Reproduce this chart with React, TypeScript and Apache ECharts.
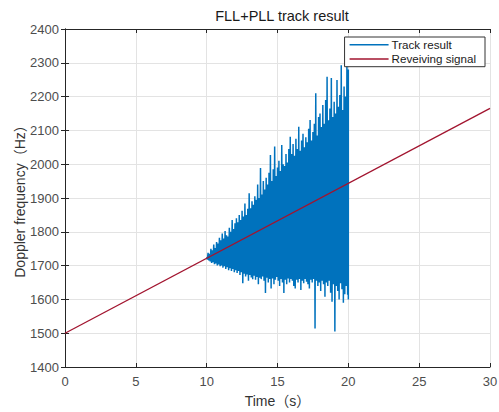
import React, { useEffect, useRef } from "react";
import * as echarts from "echarts";

const titleText = "FLL+PLL track result";
const xName = "Time（s）";
const yName = "Doppler frequency（Hz）";
const seriesNames = ["Track result", "Reveiving signal"];

// Received (reference) signal: straight line endpoints
const receivedTime = [0, 30];
const receivedFreq = [1500, 2165];

// Track result: samples from t = 10.0 s to 20.0 s, every 0.1 s
const trackStart = 10;
const trackStep = 0.1;
// Upper swing of the tracked frequency at each sample
const trackUpper = [
  1725, 1738, 1735, 1750, 1745, 1762, 1752, 1770, 1765, 1782,
  1775, 1795, 1780, 1802, 1790, 1786, 1812, 1800, 1835, 1808,
  1825, 1840, 1828, 1850, 1835, 1862, 1845, 1884, 1850, 1868,
  1914, 1870, 1890, 1880, 1905, 1895, 1940, 1900, 1989, 1910,
  1950, 1925, 1960, 1940, 1975, 2027, 1950, 1985, 2052, 1965,
  1990, 2010, 1980, 2057, 2000, 1995, 2030, 2005, 2045, 2081,
  2030, 2060, 2025, 2075, 2045, 2111, 2040, 2070, 2090, 2050,
  2080, 2065, 2105, 2131, 2070, 2095, 2120, 2210, 2085, 2140,
  2150, 2110, 2175, 2120, 2190, 2259, 2130, 2165, 2255, 2140,
  2185, 2150, 2249, 2170, 2205, 2293, 2160, 2230, 2200, 2300,
  2280,
];
// Lower swing of the tracked frequency at each sample
const trackLower = [
  1718, 1715, 1712, 1708, 1710, 1704, 1706, 1700, 1703, 1698,
  1700, 1694, 1698, 1690, 1695, 1686, 1692, 1684, 1690, 1680,
  1686, 1678, 1684, 1672, 1680, 1648, 1676, 1668, 1674, 1655,
  1672, 1665, 1660, 1670, 1658, 1666, 1645, 1664, 1660, 1668,
  1655, 1619, 1664, 1650, 1660, 1632, 1662, 1645, 1658, 1666,
  1655, 1640, 1660, 1650, 1619, 1658, 1645, 1662, 1650, 1660,
  1655, 1640, 1632, 1658, 1650, 1660, 1628, 1655, 1648, 1660,
  1652, 1645, 1632, 1658, 1650, 1660, 1514, 1655, 1640, 1650,
  1625, 1655, 1645, 1608, 1650, 1640, 1655, 1620, 1593, 1645,
  1505, 1640, 1625, 1600, 1648, 1630, 1590, 1615, 1640, 1614,
  1600,
];

const xMin = 0, xMax = 30, xInterval = 5;
const yMin = 1400, yMax = 2400, yInterval = 100;

const FONT = "'Liberation Sans', Arial, 'Noto Sans CJK SC', sans-serif";

export default function App() {
  const ref = useRef<HTMLDivElement>(null);

  useEffect(() => {
    if (!ref.current) return;
    const chart = echarts.init(ref.current, undefined, { renderer: "svg" });

    const trackData: number[][] = [];
    for (let i = 0; i < trackUpper.length; i++) {
      const t = trackStart + i * trackStep;
      trackData.push([t, trackUpper[i]]);
      if (i < trackUpper.length - 1) trackData.push([t + trackStep / 2, trackLower[i]]);
      else trackData.push([t, trackLower[i]]);
    }
    const receivedData = receivedTime.map((t, i) => [t, receivedFreq[i]]);

    const axisLine = { show: true, lineStyle: { color: "#262626", width: 1 } };
    const tick = { show: true, inside: true, length: 4, lineStyle: { color: "#262626" } };

    chart.setOption({
      animation: false,
      backgroundColor: "#ffffff",
      textStyle: { fontFamily: FONT },
      title: {
        text: titleText,
        left: 277,
        textAlign: "center",
        top: 4,
        textStyle: { fontSize: 14.5, fontWeight: "normal", color: "#1a1a1a", fontFamily: FONT },
      },
      grid: { left: 65, right: 9, top: 29, bottom: 45, containLabel: false, outerBoundsMode: "none" },
      legend: {
        data: seriesNames,
        orient: "vertical",
        right: 14,
        top: 37,
        backgroundColor: "#ffffff",
        borderColor: "#333333",
        borderWidth: 1,
        padding: [2, 9, 2, 5],
        itemGap: 2.5,
        itemWidth: 39,
        itemHeight: 1.5,
        icon: "rect",
        textStyle: { fontSize: 11.6, color: "#1a1a1a", fontFamily: FONT, padding: [0, 0, 0, -2] },
      },
      xAxis: [
        {
          type: "value",
          min: xMin,
          max: xMax,
          interval: xInterval,
          name: xName,
          nameLocation: "middle",
          nameGap: 27,
          nameMoveOverlap: false,
          nameTextStyle: { fontSize: 14, color: "#333333", fontFamily: FONT },
          axisLine,
          axisTick: tick,
          axisLabel: { fontSize: 13, color: "#4d4d4d", margin: 8, fontFamily: FONT },
          splitLine: { show: true, lineStyle: { color: "#e3e3e3", width: 1 } },
        },
        {
          type: "value",
          position: "top",
          min: xMin,
          max: xMax,
          interval: xInterval,
          axisLine,
          axisTick: tick,
          axisLabel: { show: false },
          splitLine: { show: false },
        },
      ],
      yAxis: [
        {
          type: "value",
          min: yMin,
          max: yMax,
          interval: yInterval,
          name: yName,
          nameLocation: "middle",
          nameGap: 38,
          nameMoveOverlap: false,
          nameTextStyle: { fontSize: 14, color: "#333333", fontFamily: FONT },
          axisLine,
          axisTick: tick,
          axisLabel: {
            fontSize: 13,
            color: "#4d4d4d",
            margin: 6,
            fontFamily: FONT,
            formatter: (v: number) => String(v),
          },
          splitLine: { show: true, lineStyle: { color: "#e3e3e3", width: 1 } },
        },
        {
          type: "value",
          position: "right",
          min: yMin,
          max: yMax,
          interval: yInterval,
          axisLine,
          axisTick: tick,
          axisLabel: { show: false },
          splitLine: { show: false },
        },
      ],
      series: [
        {
          name: seriesNames[0],
          type: "line",
          xAxisIndex: 0,
          yAxisIndex: 0,
          data: trackData,
          showSymbol: false,
          symbol: "none",
          color: "#0072BD",
          lineStyle: { color: "#0072BD", width: 1.5 },
          z: 2,
        },
        {
          name: seriesNames[1],
          type: "line",
          xAxisIndex: 0,
          yAxisIndex: 0,
          data: receivedData,
          showSymbol: false,
          symbol: "none",
          color: "#A2142F",
          lineStyle: { color: "#A2142F", width: 1.3 },
          z: 3,
        },
      ],
    });

    return () => chart.dispose();
  }, []);

  return (
    <div
      ref={ref}
      style={{ position: "fixed", left: 0, top: 0, width: 499, height: 412, background: "#fff" }}
    />
  );
}
